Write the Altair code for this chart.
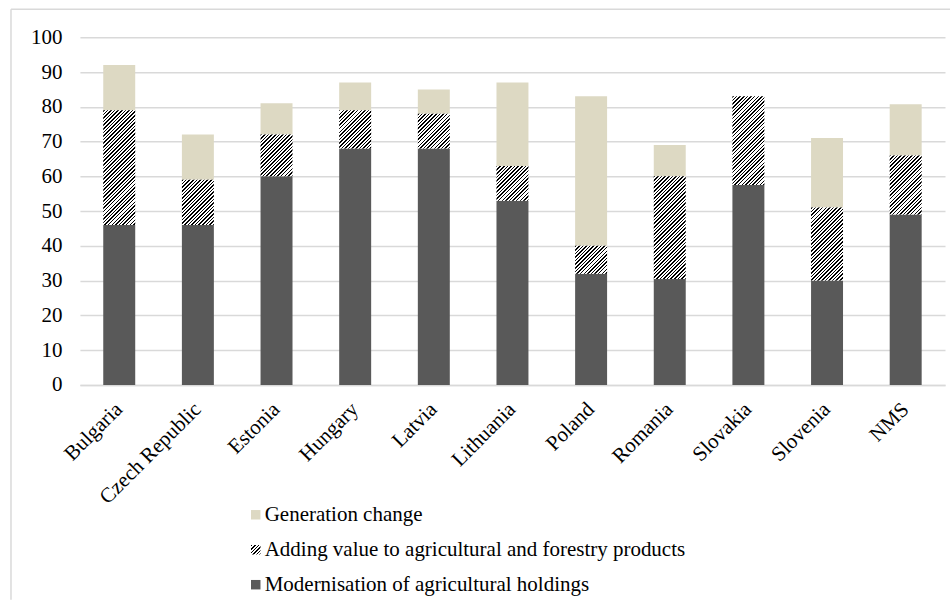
import math
import altair as alt
import pandas as pd

# ---------------- data ----------------
countries = ["Bulgaria", "Czech Republic", "Estonia", "Hungary", "Latvia",
             "Lithuania", "Poland", "Romania", "Slovakia", "Slovenia", "NMS"]
modernisation = [46, 46, 60, 68, 68, 53, 32, 30.5, 57.5, 30, 49]
adding_value = [33, 13, 12, 11, 10, 10, 8, 29.5, 25.5, 21, 17]
generation = [13, 13, 9, 8, 7, 24, 43, 9, 0, 20, 14.7]
series_names = ["Generation change",
                "Adding value to agricultural and forestry products",
                "Modernisation of agricultural holdings"]
y_ticks = list(range(0, 101, 10))

# ---------------- layout / style ----------------
PLOT_W, PLOT_H = 866, 348
Y_MAX = 100
FONT = "'Liberation Serif', 'Times New Roman', Times, 'DejaVu Serif', serif"
FS = 21
DARK = "#595959"
BEIGE = "#ddd9c3"
GRID = "#d9d9d9"
PAD_INNER = 0.5935
BAR_W = PLOT_W / len(countries) * (1 - PAD_INNER)
PX_PER_UNIT = PLOT_H / Y_MAX

rows = []
for c, m, a, g in zip(countries, modernisation, adding_value, generation):
    rows.append({"country": c, "seg": "mod", "start": 0, "end": m})
    rows.append({"country": c, "seg": "add", "start": m, "end": m + a})
    rows.append({"country": c, "seg": "gen", "start": m + a, "end": m + a + g})
df = pd.DataFrame(rows)


def hatch(w, h, period=2.55):
    """Diagonal '/' black-white stripes as a linear gradient in bbox units."""
    a = (1 / h + 1 / w) / (1 / h ** 2 + 1 / w ** 2)
    x2, y2 = a / h, a / w
    n = ((w + h) / math.sqrt(2)) / period
    stops = []
    k = 0
    while k < n:
        o0 = k / n
        om = min((k + 0.42) / n, 1.0)
        o1 = min((k + 1) / n, 1.0)
        stops += [alt.GradientStop(offset=o0, color="#000000"),
                  alt.GradientStop(offset=om, color="#000000"),
                  alt.GradientStop(offset=om, color="#ffffff"),
                  alt.GradientStop(offset=o1, color="#ffffff")]
        k += 1
    return alt.LinearGradient(gradient="linear", stops=stops,
                              x1=0, y1=0, x2=x2, y2=y2)


x_enc = alt.X("country:N", sort=countries,
              scale=alt.Scale(paddingInner=PAD_INNER, paddingOuter=PAD_INNER / 2),
              axis=alt.Axis(title=None, labelAngle=-45, labelAlign="right",
                            labelBaseline="middle", labelPadding=21, ticks=False,
                            domainColor=GRID, domainWidth=1.5, grid=False,
                            labelFont=FONT, labelFontSize=FS, labelColor="black"))
y_enc = alt.Y("start:Q", scale=alt.Scale(domain=[0, Y_MAX], nice=False),
              axis=alt.Axis(title=None, values=y_ticks, ticks=False, domain=False,
                            labelPadding=18, gridColor=GRID, gridWidth=1.5,
                            labelFont=FONT, labelFontSize=FS, labelColor="black"))
y2_enc = alt.Y2("end:Q")

mod_layer = alt.Chart().transform_filter(alt.datum.seg == "mod").mark_bar(
    color=DARK).encode(x=x_enc, y=y_enc, y2=y2_enc)
gen_layer = alt.Chart().transform_filter(alt.datum.seg == "gen").mark_bar(
    color=BEIGE).encode(x=x_enc, y=y_enc, y2=y2_enc)

hatch_layers = []
for c, a in zip(countries, adding_value):
    h = a * PX_PER_UNIT
    hatch_layers.append(
        alt.Chart().transform_filter(
            (alt.datum.seg == "add") & (alt.datum.country == c)
        ).mark_bar(fill=hatch(BAR_W, h)).encode(x=x_enc, y=y_enc, y2=y2_enc)
    )

bars = alt.layer(mod_layer, gen_layer, *hatch_layers, data=df)

# ---------------- custom legend ----------------
legend_df = pd.DataFrame({"series": series_names})
leg_y = alt.Y("series:N", sort=series_names,
              scale=alt.Scale(type="point", range=[478, 548], padding=0), axis=None)
LEG_SYM_X = 176
LEG_TXT_X = 185
sq_colored = alt.Chart().transform_filter(
    alt.datum.series != series_names[1]
).mark_square(size=90, opacity=1).encode(
    x=alt.value(LEG_SYM_X), y=leg_y,
    fill=alt.Fill("series:N", scale=alt.Scale(domain=[series_names[0], series_names[2]],
                                              range=[BEIGE, DARK]), legend=None))
sq_hatch = alt.Chart().transform_filter(
    alt.datum.series == series_names[1]
).mark_square(size=90, opacity=1, filled=True, fill=hatch(9.5, 9.5)).encode(
    x=alt.value(LEG_SYM_X), y=leg_y)
leg_text = alt.Chart().mark_text(
    align="left", baseline="middle", font=FONT, fontSize=FS, color="black"
).encode(x=alt.value(LEG_TXT_X), y=leg_y, text="series:N")
legend = alt.layer(sq_colored, sq_hatch, leg_text, data=legend_df)

# ---------------- outer frame (chart border) ----------------
one = pd.DataFrame({"k": [0]})
frame_top = alt.Chart(one).mark_rule(color=GRID, strokeWidth=1.5).encode(
    x=alt.value(-69), x2=alt.value(871), y=alt.value(-28))
frame_left = alt.Chart(one).mark_rule(color=GRID, strokeWidth=1.5).encode(
    x=alt.value(-69), y=alt.value(-28), y2=alt.value(563))

chart = alt.layer(frame_top, frame_left, bars, legend).resolve_scale(
    y="independent"
).properties(
    width=PLOT_W, height=PLOT_H,
    padding={"left": 10, "top": 8, "right": 0, "bottom": 0},
    background="white",
).configure_view(strokeWidth=0)

chart.save("out.html", embed_options={"renderer": "svg", "actions": False})
